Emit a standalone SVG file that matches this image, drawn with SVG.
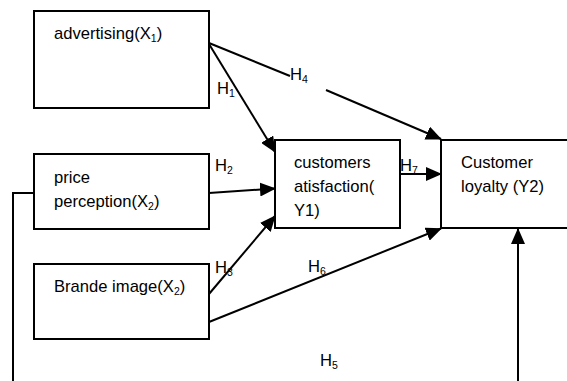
<svg xmlns="http://www.w3.org/2000/svg" width="567" height="381" viewBox="0 0 567 381">
<style>
.box{fill:#fff;stroke:#000;stroke-width:2}
.t{font-family:"Liberation Sans",Arial,sans-serif;font-size:16.6px;fill:#000}
.s{font-size:10.5px}
.c{fill:none;stroke:#000;stroke-width:2}
.a{marker-end:url(#ah)}
</style>
<defs>
<marker id="ah" markerUnits="userSpaceOnUse" markerWidth="16" markerHeight="14" viewBox="0 0 16 14" refX="15" refY="7" orient="auto">
<path d="M0,0 L16,7 L0,14 z" fill="#000"/>
</marker>
</defs>
<rect width="567" height="381" fill="#fff"/>
<g id="connectors">
<polyline class="c" points="34,193 13,193 13,395 518,395"/>
<line class="c a" x1="518" y1="395" x2="518" y2="229"/>
<line class="c a" x1="209" y1="44" x2="275" y2="152"/>
<line class="c" x1="209" y1="43" x2="290" y2="76"/>
<line class="c a" x1="326" y1="90" x2="441" y2="139"/>
<line class="c a" x1="209" y1="193" x2="275" y2="188.5"/>
<line class="c a" x1="209" y1="294" x2="275" y2="216"/>
<line class="c a" x1="209" y1="322" x2="441" y2="228.5"/>
<line class="c a" x1="400" y1="174" x2="441" y2="174"/>
</g>
<g id="advertising">
<rect class="box" x="34" y="11" width="175" height="97"/>
<text class="t" x="54" y="39">advertising(X<tspan class="s" dy="3">1</tspan><tspan dy="-3">)</tspan></text>
</g>
<g id="price">
<rect class="box" x="34" y="154" width="175" height="75"/>
<text class="t" x="54" y="183">price</text>
<text class="t" x="54" y="207">perception(X<tspan class="s" dy="3">2</tspan><tspan dy="-3">)</tspan></text>
</g>
<g id="brande">
<rect class="box" x="34" y="264" width="175" height="75"/>
<text class="t" x="54" y="292">Brande image(X<tspan class="s" dy="3">2</tspan><tspan dy="-3">)</tspan></text>
</g>
<g id="satisfaction">
<rect class="box" x="275" y="140" width="125" height="88"/>
<text class="t" x="294" y="168">customers</text>
<text class="t" x="294" y="192">atisfaction(</text>
<text class="t" x="294" y="216">Y1)</text>
</g>
<g id="loyalty">
<rect class="box" x="441" y="140" width="140" height="88"/>
<text class="t" x="461" y="168">Customer</text>
<text class="t" x="461" y="192">loyalty (Y2)</text>
</g>
<g id="labels">
<text class="t" x="217" y="94">H<tspan class="s" dy="3">1</tspan></text>
<text class="t" x="290" y="80">H<tspan class="s" dy="3">4</tspan></text>
<text class="t" x="215" y="171">H<tspan class="s" dy="3">2</tspan></text>
<text class="t" x="400" y="171">H<tspan class="s" dy="3">7</tspan></text>
<text class="t" x="215" y="273">H<tspan class="s" dy="3">3</tspan></text>
<text class="t" x="308" y="272">H<tspan class="s" dy="3">6</tspan></text>
<text class="t" x="320" y="366">H<tspan class="s" dy="3">5</tspan></text>
</g>
</svg>
